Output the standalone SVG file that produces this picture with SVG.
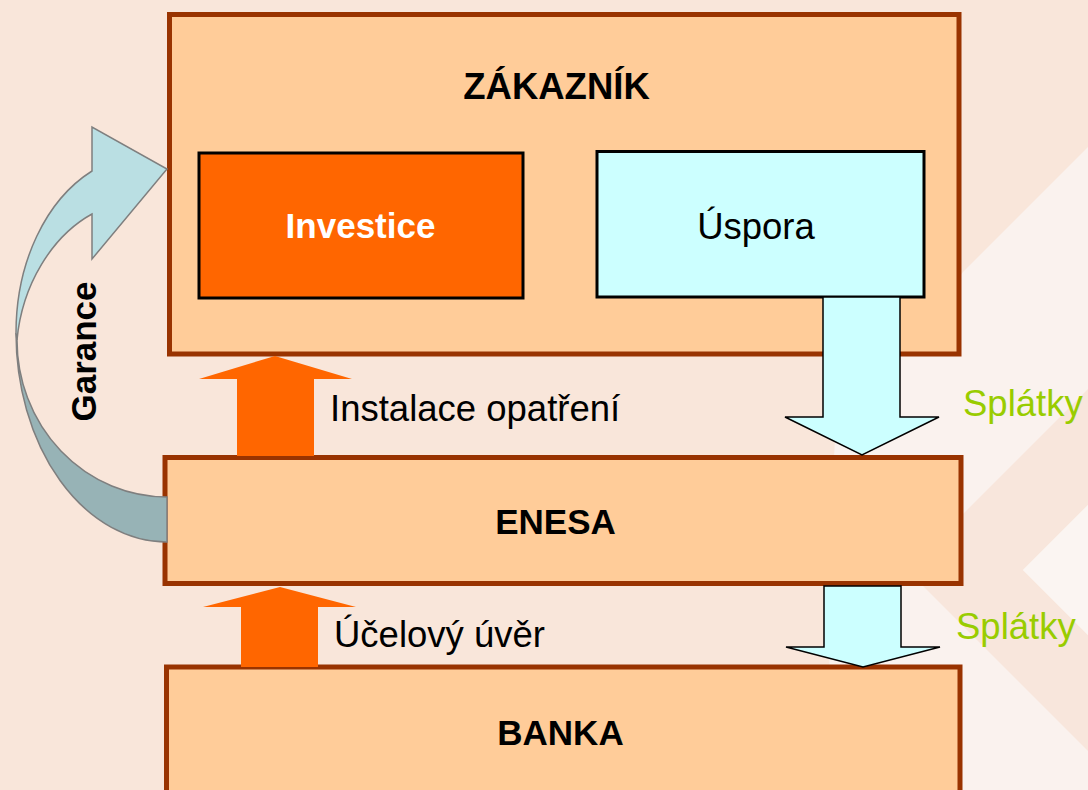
<svg xmlns="http://www.w3.org/2000/svg" width="1088" height="790" viewBox="0 0 1088 790">
<style>
text{font-family:"Liberation Sans",Arial,Helvetica,sans-serif}
.box{fill:#FFCC99;stroke:#993300;stroke-width:5}
.b{font-weight:bold;font-size:35px;fill:#000;text-anchor:middle}
.r{font-size:36.5px;fill:#000}
.g{font-size:36.5px;fill:#99CC00}
.up{fill:#FF6600}
.down{fill:#CCFFFF;stroke:#000;stroke-width:1.5;stroke-linejoin:miter}
.inner{stroke:#000;stroke-width:3}
</style>
<g id="background">
<rect x="0" y="0" width="1088" height="790" fill="#F9E6DA"/>
<polygon points="1088,147 963,272 835,440 828,560 830,700 850,790 1088,790" fill="#FAF2EE"/>
<polygon points="1088,389 907,570 1088,751 1088,635 1023,570 1088,505" fill="#F8E6DC"/>
<polygon points="1023,570 1088,505 1088,635" fill="#FBF5F2"/>
</g>
<g id="zakaznik">
<rect class="box" x="169.5" y="14.5" width="789.5" height="339.5"/>
<text class="b" x="556.5" y="99" style="font-size:36.5px">ZÁKAZNÍK</text>
</g>
<g id="investice">
<rect class="inner" x="199" y="153" width="324" height="145" fill="#FF6600"/>
<text class="b" x="360.5" y="238" style="fill:#FFFFFF">Investice</text>
</g>
<g id="uspora">
<rect class="inner" x="597" y="151.5" width="327" height="145.5" fill="#CCFFFF"/>
<text class="r" x="756" y="239" text-anchor="middle">Úspora</text>
</g>
<g id="enesa">
<rect class="box" x="165" y="457.5" width="796" height="126"/>
<text class="b" x="555.5" y="534">ENESA</text>
</g>
<g id="banka">
<rect class="box" x="166.5" y="667" width="793.5" height="140"/>
<text class="b" x="560.5" y="745">BANKA</text>
</g>
<g id="connectors">
<polygon class="up" points="275,356 352,379 314,379 314,456 237,456 237,379 199,379"/>
<polygon class="up" points="280,587 356,607 318,607 318,667 241,667 241,607 203,607"/>
<polygon class="down" points="823,297 900,297 900,417 939,417 862,455 785,417 823,417"/>
<polygon class="down" points="824,586 901,586 901,647 940,647 863,667 786,647 824,647"/>
<path d="M16,333 A151,209 0 0 0 167,542 L167,497 A150,157 0 0 1 17,340 Z" fill="#97B3B6" stroke="#7F7F7F" stroke-width="1.5"/>
<path d="M16,333 C16,262 46,200 92,171 L92,127 L167,169 L92,259 L92,214 C52,236 22,285 17,340 Z" fill="#BADFE3" stroke="#7F7F7F" stroke-width="1.5"/>
<text class="b" transform="translate(96,351.5) rotate(-90)">Garance</text>
<text class="r" x="330" y="421">Instalace opatření</text>
<text class="r" x="334" y="647">Účelový úvěr</text>
<text class="g" x="963" y="416">Splátky</text>
<text class="g" x="956" y="639">Splátky</text>
</g>
</svg>
